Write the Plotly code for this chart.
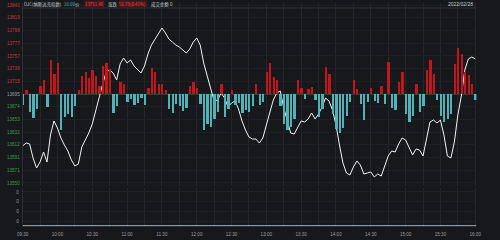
import plotly.graph_objects as go

W, H = 500, 240
BG = "#16181c"
GRID = "#23262b"
AXLINE = "#2c3036"
RED = "#c0161c"
TEAL = "#4fb3b8"
RED_TXT = "#c8373c"
GREEN_TXT = "#3a9f4a"
GRAY_TXT = "#9a9da3"

# ---------------- data ----------------
prev_close = 13694.62
last_price = 13751.40
change = 56.78
change_pct = 0.41
trade_date = "2022/02/28"
symbol = "DJC(纳斯达克指数)"
last_time = "16:00"
turnover = "0"

time_labels = ["09:30", "10:00", "10:30", "11:00", "11:30", "12:00", "12:30",
               "13:00", "13:30", "14:00", "14:30", "15:00", "15:30", "16:00"]

# minutes after 09:30, one point every 3 minutes
minutes = list(range(0, 391, 3))

price = [
    13610.5, 13615.4, 13613.8, 13591.1, 13574.9, 13584.6, 13600.8, 13584.6, 13628.3, 13651.0,
    13639.6, 13623.5, 13612.1, 13602.4, 13587.9, 13578.2, 13581.4, 13608.9, 13620.2, 13631.5,
    13646.1, 13668.7, 13691.4, 13710.8, 13730.2, 13733.4, 13728.6, 13717.3, 13743.1, 13752.8,
    13744.7, 13749.6, 13739.9, 13735.0, 13728.6, 13739.9, 13759.3, 13773.8, 13783.5, 13793.3,
    13801.3, 13793.3, 13783.5, 13778.7, 13773.8, 13770.6, 13765.8, 13760.9, 13767.4, 13778.7,
    13785.2, 13773.8, 13744.7, 13723.7, 13701.1, 13683.3, 13684.9, 13696.2, 13688.1, 13673.6,
    13680.1, 13683.3, 13670.4, 13651.0, 13636.4, 13625.1, 13621.8, 13621.8, 13615.4, 13623.5,
    13644.5, 13667.1, 13684.9, 13696.2, 13699.5, 13672.0, 13649.3, 13631.5, 13629.9, 13641.2,
    13651.0, 13649.3, 13654.2, 13663.9, 13654.2, 13662.3, 13673.6, 13688.1, 13683.3, 13668.7,
    13644.5, 13612.1, 13583.0, 13566.9, 13563.6, 13576.6, 13586.3, 13579.8, 13565.2, 13566.9,
    13568.5, 13560.4, 13565.2, 13562.0, 13578.2, 13594.3, 13602.4, 13600.8, 13613.8, 13623.5,
    13620.2, 13607.3, 13596.0, 13605.7, 13604.0, 13594.3, 13620.2, 13649.3, 13652.6, 13647.7,
    13652.6, 13628.3, 13594.3, 13591.1, 13617.0, 13660.6, 13691.4, 13733.4, 13751.2, 13754.4,
    13751.4,
]

flow = [
    -11, 4, -18, -24, -15, 8, 14, -13, 34, 20,
    31, -36, -23, -20, -23, -12, 4, 18, 22, 16,
    24, 18, 8, 28, 31, 25, -19, -12, 12, 10,
    -8, -5, -11, -9, -4, -11, 6, 26, 22, 10,
    10, 4, -15, -19, -10, -12, -17, -14, 8, 12,
    6, -10, -36, -30, -33, -25, -18, 10, -23, -15,
    4, -11, -9, -19, -16, -18, -12, 10, -11, -8,
    22, 31, 17, 14, -12, -30, -36, -33, -25, 14,
    6, -5, 5, 7, -6, -23, -15, 27, 20, -20,
    -35, -39, -34, -22, -8, 14, 5, -10, -26, -8,
    6, -7, -9, 8, -10, 32, -14, -16, 12, 22,
    -20, -28, -22, 10, -18, -12, 24, 34, 20, -6,
    -22, -28, -25, -20, 30, 46, 40, 22, 19, 10,
    -6,
]

volume = [0] * len(minutes)

pct_levels = [1.05, 0.90, 0.75, 0.60, 0.45, 0.30, 0.15, 0.00,
              -0.15, -0.30, -0.45, -0.60, -0.75, -0.90, -1.05]
left_labels = ["13840", "13819", "13798", "13777", "13757", "13736", "13715", "13695",
               "13674", "13653", "13632", "13612", "13591", "13571", "13550"]
right_labels = ["1.05%", "0.90%", "0.75%", "0.60%", "0.45%", "0.30%", "0.15%", "0.00%",
                "0.15%", "0.30%", "0.45%", "0.60%", "0.75%", "0.90%", "1.05%"]
vol_levels = [0.5, 1.5, 2.5, 3.5]
vol_labels = ["0", "0", "0", "0"]

# ---------------- helpers ----------------
def px(x):
    return x / W


def py(y):
    return 1 - y / H


def colored(text, pct):
    c = RED_TXT if pct > 0 else (GREEN_TXT if pct < 0 else GRAY_TXT)
    return f"<span style='color:{c}'>{text}</span>"


level_vals = [prev_close * (1 + p / 100) for p in pct_levels]
left_text = [colored(t, p) for t, p in zip(left_labels, pct_levels)]
right_text = [colored(t, p) for t, p in zip(right_labels, pct_levels)]

grid_vals = list(range(0, 391, 15))
grid_text = [time_labels[i // 2] if i % 2 == 0 else "" for i in range(len(grid_vals))]

bar_colors = [RED if v >= 0 else TEAL for v in flow]

fig = go.Figure()

fig.add_trace(go.Bar(
    x=minutes, y=flow, marker=dict(color=bar_colors, line=dict(width=0)),
    width=2.0, xaxis="x", yaxis="y3", hoverinfo="skip", showlegend=False,
))
fig.add_trace(go.Scatter(
    x=minutes, y=price, mode="lines", line=dict(color="#f2f2f2", width=1),
    xaxis="x", yaxis="y", showlegend=False,
))
fig.add_trace(go.Bar(
    x=minutes, y=volume, marker=dict(color=RED), xaxis="x2", yaxis="y4",
    showlegend=False, hoverinfo="skip",
))

XDOM = [px(17), px(481)]
MAIN_DOM = [py(186), py(3)]
VOL_DOM = [py(226), py(188)]
tickfont = dict(family="Liberation Sans, Arial", size=4.6, color=GRAY_TXT)

fig.update_layout(
    width=W, height=H,
    margin=dict(l=0, r=0, t=0, b=0),
    paper_bgcolor=BG, plot_bgcolor=BG,
    bargap=0,
    xaxis=dict(domain=XDOM, range=[0, 391], tickvals=grid_vals, ticktext=[""] * len(grid_vals),
               showgrid=True, gridcolor=GRID, gridwidth=1, zeroline=False,
               showline=False, anchor="y", fixedrange=True),
    yaxis=dict(domain=MAIN_DOM,
               range=[prev_close * (1 - 0.010866), prev_close * (1 + 0.010745)],
               tickvals=level_vals, ticktext=left_text, side="left",
               showgrid=True, gridcolor="#1d2024", zeroline=False, showline=True,
               linecolor=AXLINE, linewidth=1, ticks="", tickfont=tickfont,
               ticklabelstandoff=1, anchor="x"),
    yaxis2=dict(overlaying="y", side="right", anchor="x",
                range=[prev_close * (1 - 0.010866), prev_close * (1 + 0.010745)],
                tickvals=level_vals, ticktext=right_text, showgrid=False,
                zeroline=False, showline=True, linecolor=AXLINE, ticks="",
                tickfont=tickfont, ticklabelstandoff=1),
    yaxis3=dict(overlaying="y", range=[-92, 91], visible=False, anchor="x"),
    xaxis2=dict(domain=XDOM, range=[0, 391], tickvals=grid_vals, ticktext=grid_text,
                showgrid=True, gridcolor=GRID, zeroline=False, showline=True,
                linecolor=AXLINE, ticks="outside", ticklen=3, tickcolor=BG,
                tickfont=tickfont, anchor="y4", fixedrange=True),
    yaxis4=dict(domain=VOL_DOM, range=[0, 3.9], tickvals=vol_levels, ticktext=vol_labels,
                showgrid=True, gridcolor="#1d2024", zeroline=False, showline=True,
                linecolor=AXLINE, ticks="", tickfont=tickfont, ticklabelstandoff=2,
                anchor="x2"),
    yaxis5=dict(overlaying="y4", side="right", anchor="x2", range=[0, 3.9],
                tickvals=vol_levels, ticktext=vol_labels, showgrid=False,
                zeroline=False, showline=True, linecolor=AXLINE, ticks="",
                tickfont=tickfont, ticklabelstandoff=2),
)

# zero line of the flow bars
fig.add_shape(type="line", xref="x", yref="y", x0=0, x1=391, y0=prev_close, y1=prev_close,
              line=dict(color="#5a5d63", width=1), layer="below")

# header separator
fig.add_shape(type="line", xref="paper", yref="paper", x0=px(17), x1=px(481), y0=py(8), y1=py(8),
              line=dict(color=AXLINE, width=1), layer="above")

hfont = "Noto Sans CJK SC"
header = [
    (17, symbol, "#c9ccd1", None),
    (58, last_time, "#4fb3b8", None),
    (70, "价", "#c9ccd1", None),
    (80, f"{last_price:.2f}", "#e04a50", "#4a1619"),
    (103, "涨跌", "#c9ccd1", None),
    (115, f"{change:.2f}({change_pct:.2f}%)", "#e04a50", "#4a1619"),
    (147, "成交金额", "#c9ccd1", None),
    (167, turnover, "#c9ccd1", None),
]
for x, t, c, bg in header:
    fig.add_annotation(xref="paper", yref="paper", x=px(x), y=py(4), text=t, showarrow=False,
                       xanchor="left", yanchor="middle", font=dict(family=hfont, size=4.4, color=c),
                       bgcolor=bg, borderpad=0)
fig.add_annotation(xref="paper", yref="paper", x=px(480), y=py(4), text=trade_date,
                   showarrow=False, xanchor="right", yanchor="middle",
                   font=dict(family="Liberation Sans", size=5, color="#c9ccd1"))

fig.write_html("out.html")
